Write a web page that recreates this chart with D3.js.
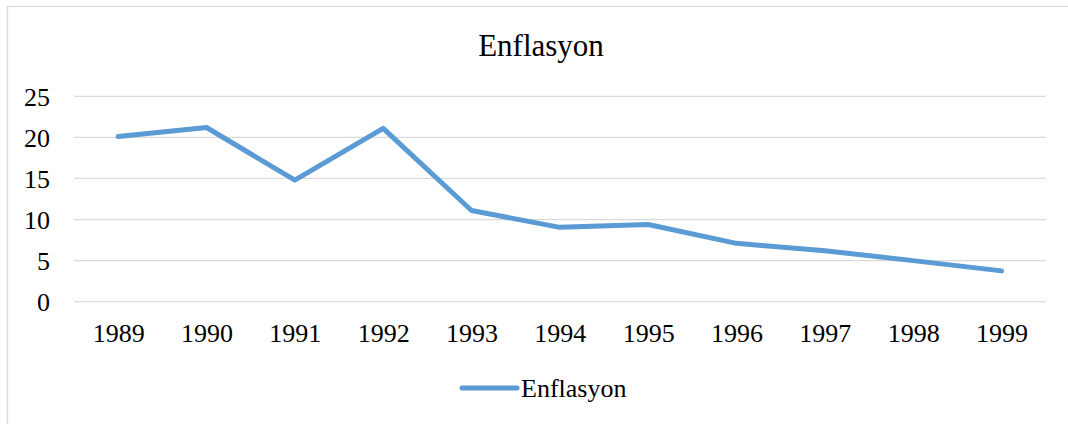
<!DOCTYPE html>
<html>
<head>
<meta charset="utf-8">
<script src="https://cdn.jsdelivr.net/npm/d3@7"></script>
<style>
  body { margin: 0; background: #fff; }
  text { font-family: "Liberation Serif", "Times New Roman", serif; fill: #000; }
</style>
</head>
<body>
<div id="chart"></div>
<script>
const years = ["1989", "1990", "1991", "1992", "1993", "1994", "1995", "1996", "1997", "1998", "1999"];
const enflasyon = [20.1, 21.2, 14.8, 21.1, 11.1, 9.05, 9.4, 7.1, 6.2, 5.0, 3.75];
const yTicks = [0, 5, 10, 15, 20, 25];
const seriesName = "Enflasyon";
const chartTitle = "Enflasyon";

const W = 1068, H = 424;
const margin = {top: 96.3, right: 22.3, bottom: 122.3, left: 74};

const svg = d3.select("#chart").append("svg")
    .attr("width", W)
    .attr("height", H);

// chart area border
svg.append("rect")
    .attr("x", 7.5)
    .attr("y", 6.5)
    .attr("width", W + 10)
    .attr("height", H + 10)
    .attr("fill", "none")
    .attr("stroke", "#d9d9d9")
    .attr("stroke-width", 1.3);

const x = d3.scalePoint()
    .domain(years)
    .range([margin.left, W - margin.right])
    .padding(0.5);

const y = d3.scaleLinear()
    .domain([0, 25])
    .range([H - margin.bottom, margin.top]);

// gridlines
svg.append("g")
    .selectAll("line")
    .data(yTicks)
    .join("line")
    .attr("x1", margin.left)
    .attr("x2", W - margin.right)
    .attr("y1", d => y(d))
    .attr("y2", d => y(d))
    .attr("stroke", "#d9d9d9")
    .attr("stroke-width", 1.3);

// y axis labels
const yAxis = svg.append("g")
    .attr("transform", `translate(${margin.left},0)`)
    .call(d3.axisLeft(y).tickValues(yTicks).tickSize(0).tickPadding(24));
yAxis.select(".domain").remove();
yAxis.selectAll("text")
    .attr("font-size", 26)
    .attr("font-family", "Liberation Serif, serif")
    .attr("dy", "0.34em");

// x axis labels
const xAxis = svg.append("g")
    .attr("transform", `translate(0,${y(0)})`)
    .call(d3.axisBottom(x).tickSize(0).tickPadding(22));
xAxis.select(".domain").remove();
xAxis.selectAll("text")
    .attr("font-size", 26)
    .attr("font-family", "Liberation Serif, serif")
    .attr("dy", "0.71em");

// title
svg.append("text")
    .attr("x", 541)
    .attr("y", 56)
    .attr("text-anchor", "middle")
    .attr("font-size", 31)
    .text(chartTitle);

// series line
const line = d3.line()
    .x((d, i) => x(years[i]))
    .y(d => y(d));

svg.append("path")
    .datum(enflasyon)
    .attr("d", line)
    .attr("fill", "none")
    .attr("stroke", "#5b9bd5")
    .attr("stroke-width", 5)
    .attr("stroke-linejoin", "round")
    .attr("stroke-linecap", "round");

// legend
const legend = svg.append("g")
    .attr("transform", "translate(462,388)");
legend.append("line")
    .attr("x1", 0)
    .attr("x2", 55)
    .attr("stroke", "#5b9bd5")
    .attr("stroke-width", 5)
    .attr("stroke-linecap", "round");
legend.append("text")
    .attr("x", 59)
    .attr("y", 8.5)
    .attr("font-size", 26)
    .text(seriesName);
</script>
</body>
</html>
